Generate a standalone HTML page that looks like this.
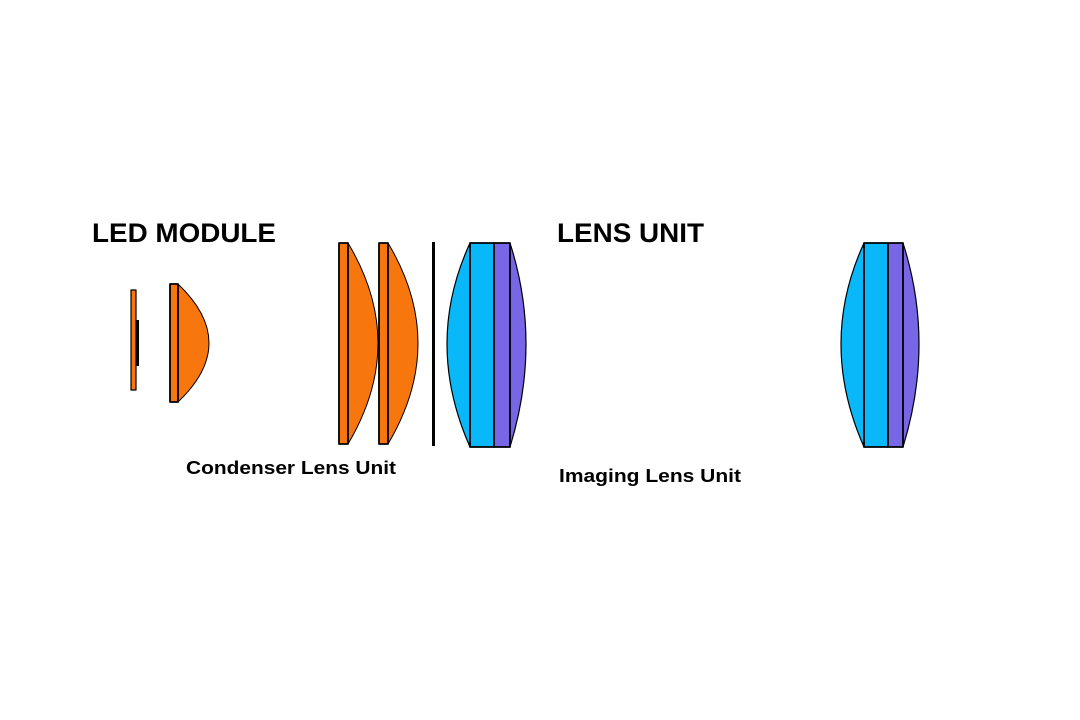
<!DOCTYPE html>
<html><head><meta charset="utf-8"><style>
html,body{margin:0;padding:0;background:#fff;width:1080px;height:720px;overflow:hidden}
svg{display:block}
text{font-family:"Liberation Sans",Arial,sans-serif;font-weight:bold;fill:#000}
</style></head><body>
<svg width="1080" height="720" viewBox="0 0 1080 720" xmlns="http://www.w3.org/2000/svg">
<g stroke="#000" stroke-width="1.8" stroke-linejoin="round">
  <rect x="131" y="290" width="5" height="100" fill="#F7760D" stroke-width="1.2"/>
  <rect x="136" y="320" width="3" height="46" fill="#000" stroke="none"/>
  <path d="M178,284 Q240,343 178,402 Z" fill="#F7760D" stroke-width="1"/>
  <rect x="170" y="284" width="8" height="118" fill="#F7760D"/>
  <path d="M348,243 Q408,343 348,444 Z" fill="#F7760D" stroke-width="1"/>
  <rect x="339" y="243" width="9" height="201" fill="#F7760D"/>
  <path d="M388,243 Q448,343 388,444 Z" fill="#F7760D" stroke-width="1"/>
  <rect x="379" y="243" width="9" height="201" fill="#F7760D"/>
  <rect x="432" y="242" width="3" height="204" fill="#000" stroke="none"/>
  <path d="M470,243 Q424,343 470,447 Z" fill="#08B8F8" stroke-width="1.2"/>
  <path d="M510,243 Q542,343 510,447 Z" fill="#7766E6" stroke-width="1.2"/>
  <rect x="470" y="243" width="24" height="204" fill="#08B8F8"/>
  <rect x="494" y="243" width="16" height="204" fill="#7766E6"/>
  <path d="M864,243 Q818,343 864,447 Z" fill="#08B8F8" stroke-width="1.2"/>
  <path d="M903,243 Q935,343 903,447 Z" fill="#7766E6" stroke-width="1.2"/>
  <rect x="864" y="243" width="24" height="204" fill="#08B8F8"/>
  <rect x="888" y="243" width="15" height="204" fill="#7766E6"/>
</g>
<text x="92" y="242" font-size="26.5" textLength="184" lengthAdjust="spacingAndGlyphs">LED MODULE</text>
<text x="557" y="242" font-size="26.5" textLength="147" lengthAdjust="spacingAndGlyphs">LENS UNIT</text>
<text x="186" y="474" font-size="18.5" textLength="210" lengthAdjust="spacingAndGlyphs">Condenser Lens Unit</text>
<text x="559" y="482" font-size="18.5" textLength="182" lengthAdjust="spacingAndGlyphs">Imaging Lens Unit</text>
</svg>
</body></html>
